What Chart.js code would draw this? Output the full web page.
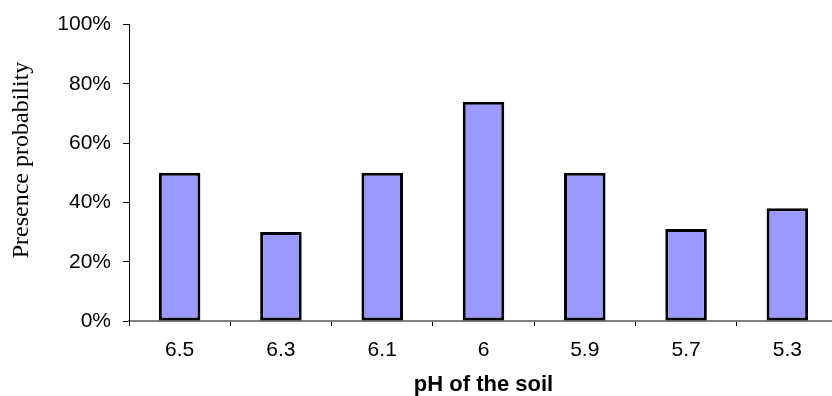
<!DOCTYPE html>
<html>
<head>
<meta charset="utf-8">
<script src="https://cdn.jsdelivr.net/npm/chart.js@4"></script>
<style>
  html, body { margin: 0; padding: 0; background: #ffffff; overflow: hidden; }
  #wrap { width: 840px; height: 396px; }
</style>
</head>
<body>
<div id="wrap"><canvas id="chart" width="840" height="396"></canvas></div>
<script>
// Soil pH classes and the probability of presence observed in each
const categories = ['6.5', '6.3', '6.1', '6', '5.9', '5.7', '5.3'];
const presence = [0.50, 0.30, 0.50, 0.74, 0.50, 0.31, 0.38];
const yTicks = [0, 0.2, 0.4, 0.6, 0.8, 1.0];
const yTickLabels = ['0%', '20%', '40%', '60%', '80%', '100%'];
const xTitle = 'pH of the soil';
const yTitle = 'Presence probability';

const sans = '"Liberation Sans", Arial, sans-serif';
const serif = '"Liberation Serif", "Times New Roman", serif';

// Rotated serif title on the left of the value axis
const yTitlePlugin = {
  id: 'yTitle',
  afterDraw(chart) {
    const ctx = chart.ctx;
    ctx.save();
    ctx.translate(28, 160);
    ctx.rotate(-Math.PI / 2);
    ctx.font = '24px ' + serif;
    ctx.fillStyle = '#000000';
    ctx.textAlign = 'center';
    ctx.textBaseline = 'alphabetic';
    ctx.fillText(yTitle, 0, 0);
    ctx.restore();
  }
};

new Chart(document.getElementById('chart'), {
  type: 'bar',
  data: {
    labels: categories,
    datasets: [{
      data: presence,
      backgroundColor: '#9999FF',
      borderColor: '#000000',
      borderWidth: 3,
      borderSkipped: false,
      barPercentage: 0.41,
      categoryPercentage: 1.0
    }]
  },
  options: {
    responsive: false,
    animation: false,
    devicePixelRatio: 1,
    layout: { padding: { top: 24, right: 2, left: 0, bottom: 0 } },
    plugins: {
      legend: { display: false },
      tooltip: { enabled: false }
    },
    scales: {
      x: {
        offset: true,
        grid: {
          display: true,
          offset: true,
          drawOnChartArea: false,
          drawTicks: true,
          tickLength: 5,
          color: '#000000',
          lineWidth: 1
        },
        border: { display: true, color: '#808080', width: 2 },
        ticks: {
          color: '#000000',
          font: { family: sans, size: 21 },
          padding: 12,
          maxRotation: 0
        },
        title: {
          display: true,
          text: xTitle,
          color: '#000000',
          font: { family: sans, size: 22, weight: 'bold', lineHeight: 1 },
          padding: { top: 0, bottom: 0 }
        },
        afterFit(scale) { scale.height = 75; }
      },
      y: {
        min: 0,
        max: 1,
        grid: {
          display: true,
          drawOnChartArea: false,
          drawTicks: true,
          tickLength: 6,
          color: '#000000',
          lineWidth: 1
        },
        border: { display: true, color: '#000000', width: 1 },
        afterBuildTicks(scale) {
          scale.ticks = yTicks.map(v => ({ value: v }));
        },
        ticks: {
          color: '#000000',
          font: { family: sans, size: 21 },
          padding: 12,
          callback(value) {
            const i = yTicks.findIndex(t => Math.abs(t - value) < 1e-9);
            return i >= 0 ? yTickLabels[i] : '';
          }
        },
        afterFit(scale) { scale.width = 129; }
      }
    }
  },
  plugins: [yTitlePlugin]
});
</script>
</body>
</html>
